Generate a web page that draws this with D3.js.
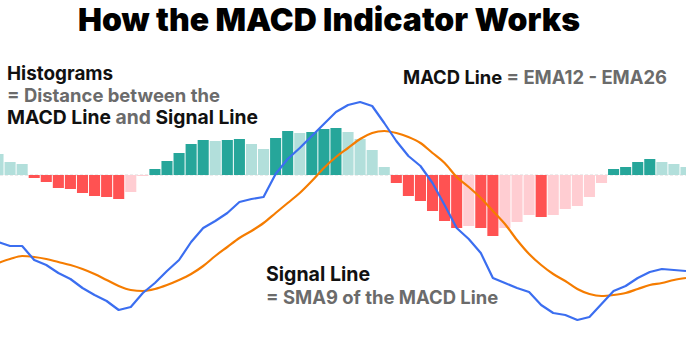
<!DOCTYPE html>
<html><head><meta charset="utf-8">
<script src="https://cdn.jsdelivr.net/npm/d3@7"></script>
<style>html,body{margin:0;padding:0;background:#fff;}svg{display:block;}</style>
</head><body>
<svg id="c" width="686" height="358"></svg>
<script>
// ---- data ----
const periods = d3.range(58);
const histogram = [21,13,11,-3,-7,-13,-14,-18,-21,-22,-24,-17,-1,6,14,22,31,35,34,35,36,31,26,37,44,42,43,46,47,43,36,25,8,-8,-21,-26,-36,-46,-53,-51,-53,-61,-53,-47,-40,-42,-40,-34,-31,-22,-8,6,8,13,16,13,11,8];
const macdLine = [-67,-71,-71,-85,-90,-98,-104,-113,-120,-126,-135,-132,-118,-108,-96,-85,-67,-53,-46,-38,-27,-24,-22,1,16,27,39,51,63,70,73,69,52,34,19,9,-8,-30,-53,-64,-78,-103,-108,-113,-117,-130,-138,-140,-145,-142,-129,-116,-111,-103,-97,-94,-95,-96];
const signalLine = [-88,-84,-81,-82,-84,-87,-90,-94,-99,-105,-111,-115,-116,-114,-110,-105,-99,-91,-81,-72,-63,-56,-48,-38,-28,-18,-6,7,18,27,36,42,44,42,38,32,22,12,-2,-12,-23,-36,-49,-65,-79,-90,-99,-106,-114,-119,-121,-120,-118,-114,-110,-108,-105,-103];
const titleText = "How the MACD Indicator Works";

const colors = {posUp:"#26a69a", posDown:"#b2dfdb", negDown:"#ff5252", negUp:"#ffcdd2", macd:"#3b6ef0", signal:"#f57c00", gray:"#6b6b6b"};

const svg = d3.select("#c");
const x = d3.scaleLinear().domain([0, 57]).range([-2, 686]);
const step = x(1) - x(0);
const y = d3.scaleLinear().domain([-100, 100]).range([275, 75]);

// zero line
svg.append("line").attr("x1",0).attr("x2",686).attr("y1",y(0)).attr("y2",y(0))
  .attr("stroke","#d9d9d9").attr("stroke-width",1).attr("stroke-dasharray","3,2");

function barColor(v,i){
  const rising = i>0 ? v > histogram[i-1] : false;
  if (v >= 0) return rising ? colors.posUp : colors.posDown;
  return rising ? colors.negUp : colors.negDown;
}
svg.append("g").selectAll("rect").data(histogram).join("rect")
  .attr("x",(d,i)=>x(i)-step/2+0.5)
  .attr("width",step-1)
  .attr("y",d=>y(Math.max(0,d)))
  .attr("height",d=>Math.abs(y(d)-y(0)))
  .attr("fill",(d,i)=>barColor(d,i));

const lineMacd = d3.line().x((d,i)=>x(i)).y(d=>y(d));
const lineSig = d3.line().x((d,i)=>x(i)).y(d=>y(d)).curve(d3.curveMonotoneX);
svg.append("path").attr("d",lineSig(signalLine)).attr("fill","none")
  .attr("stroke",colors.signal).attr("stroke-width",2.2).attr("stroke-linejoin","round");
svg.append("path").attr("d",lineMacd(macdLine)).attr("fill","none")
  .attr("stroke",colors.macd).attr("stroke-width",2.2).attr("stroke-linejoin","round");

// ---- texts ----
const FONT = "Inter, 'Open Sans', sans-serif";
function fit(t, w){
  let fs = parseFloat(t.attr("font-size"));
  for (let k=0;k<3;k++){
    const len = t.node().getComputedTextLength();
    if (len>0){ fs = fs*w/len; t.attr("font-size",fs); }
  }
}
function addText(xp, yp, parts, size, width, anchor){
  const t = svg.append("text").attr("x",xp).attr("y",yp).attr("font-family",FONT)
    .attr("font-size",size).attr("text-anchor",anchor||"start");
  parts.forEach(p=>{
    t.append("tspan").text(p[0]).attr("fill",p[1]).attr("font-weight",p[2]||700);
  });
  fit(t,width);
  return t;
}
addText(329, 31, [[titleText,"#000",900]], 30, 502, "middle");
addText(7, 80, [["Histograms","#111"]], 17, 106);
addText(7, 102, [["= Distance between the",colors.gray]], 17, 213);
addText(7, 124, [["MACD Line","#111"],[" and ",colors.gray],["Signal Line","#111"]], 17, 251);
addText(403, 84, [["MACD Line","#111"],[" = EMA12 - EMA26",colors.gray]], 17, 264);
addText(266, 281, [["Signal Line","#111"]], 17, 104);
addText(266, 304, [["= SMA9 of the MACD Line",colors.gray]], 17, 232);
</script>
</body></html>
